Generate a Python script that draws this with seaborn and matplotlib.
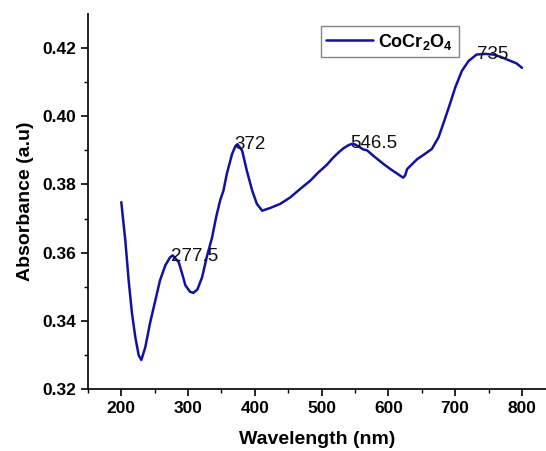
import matplotlib.pyplot as plt
import seaborn as sns
import pandas as pd

# values
wavelength = [200, 206, 211, 216, 221, 226, 230, 236, 243, 251, 258, 266, 273, 277, 286,
              291, 296, 303, 308, 314, 321, 328, 336, 342, 348, 353, 358, 366, 371, 374,
              381, 388, 396, 403, 411, 423, 438, 453, 468, 483, 495, 508, 517, 525, 532,
              540, 547, 555, 562, 568, 580, 592, 603, 613, 618, 622, 625, 628, 643, 655,
              665, 675, 682, 692, 700, 710, 720, 732, 745, 757, 767, 777, 792, 800]
absorbance = [0.3748, 0.3636, 0.3519, 0.3422, 0.3352, 0.3299, 0.3285, 0.3323, 0.3393, 0.3460, 0.3519, 0.3563, 0.3586, 0.3592, 0.3572,
              0.3539, 0.3504, 0.3485, 0.3482, 0.3492, 0.3528, 0.3587, 0.3645, 0.3704, 0.3753, 0.3782, 0.3831, 0.3890, 0.3913, 0.3918,
              0.3899, 0.3840, 0.3782, 0.3743, 0.3723, 0.3731, 0.3743, 0.3762, 0.3787, 0.3811, 0.3835, 0.3858, 0.3878, 0.3893, 0.3905,
              0.3915, 0.3920, 0.3912, 0.3903, 0.3900, 0.3880, 0.3861, 0.3845, 0.3832, 0.3825, 0.3820, 0.3826, 0.3845, 0.3874, 0.3890,
              0.3904, 0.3938, 0.3977, 0.4035, 0.4084, 0.4133, 0.4162, 0.4181, 0.4183, 0.4181, 0.4175, 0.4167, 0.4155, 0.4142]

peak_labels = ['277.5', '372', '546.5', '735']
peak_x = [277.5, 372, 546.5, 735]
peak_y = [0.359, 0.3916, 0.392, 0.418]

df = pd.DataFrame({'Wavelength': wavelength, 'Absorbance': absorbance})

sns.set_style('ticks')
plt.rcParams['font.family'] = ['Liberation Sans', 'DejaVu Sans']
plt.rcParams['mathtext.fontset'] = 'custom'
plt.rcParams['mathtext.rm'] = 'Liberation Sans:bold'
plt.rcParams['mathtext.bf'] = 'Liberation Sans:bold'
plt.rcParams['text.color'] = 'black'
plt.rcParams['axes.labelcolor'] = 'black'
plt.rcParams['xtick.color'] = 'black'
plt.rcParams['ytick.color'] = 'black'

fig = plt.figure(figsize=(5.46, 4.51), dpi=100)
ax = fig.add_axes([0.161, 0.1375, 0.839, 0.8315])

sns.lineplot(data=df, x='Wavelength', y='Absorbance', ax=ax, color='#1212a0',
             linewidth=1.8, label=r'CoCr$_\mathbf{2}$O$_\mathbf{4}$')

for lab, px, py in zip(peak_labels, peak_x, peak_y):
    ax.text(px - 3, py, lab, fontsize=13.5, ha='left', va='center', color='#111111')

ax.set_xlim(150, 836)
ax.set_ylim(0.32, 0.43)
ax.set_xticks([200, 300, 400, 500, 600, 700, 800])
ax.set_xticks([150, 250, 350, 450, 550, 650, 750], minor=True)
ax.set_yticks([0.32, 0.34, 0.36, 0.38, 0.40, 0.42])
ax.set_yticks([0.33, 0.35, 0.37, 0.39, 0.41], minor=True)
ax.set_yticklabels(['0.32', '0.34', '0.36', '0.38', '0.40', '0.42'])
ax.tick_params(which='major', direction='out', length=5, width=1.2, labelsize=12.5)
ax.tick_params(which='minor', direction='out', length=3, width=1.0)
for t in ax.get_xticklabels() + ax.get_yticklabels():
    t.set_fontweight('bold')

ax.set_xlabel('Wavelength (nm)', fontsize=14, fontweight='bold', labelpad=11)
ax.set_ylabel('Absorbance (a.u)', fontsize=14, fontweight='bold', labelpad=6)

for s in ['top', 'right']:
    ax.spines[s].set_visible(False)
for s in ['left', 'bottom']:
    ax.spines[s].set_linewidth(1.3)
    ax.spines[s].set_color('#111111')

leg = ax.legend(loc='upper left', bbox_to_anchor=(0.50, 0.977), frameon=True, fancybox=False,
                prop={'weight': 'bold', 'size': 13}, handlelength=2.6, borderpad=0.3,
                handletextpad=0.3, borderaxespad=0.2)
leg.get_frame().set_edgecolor('#666666')
leg.get_frame().set_linewidth(1.0)

fig.savefig('out.png', dpi=100)
